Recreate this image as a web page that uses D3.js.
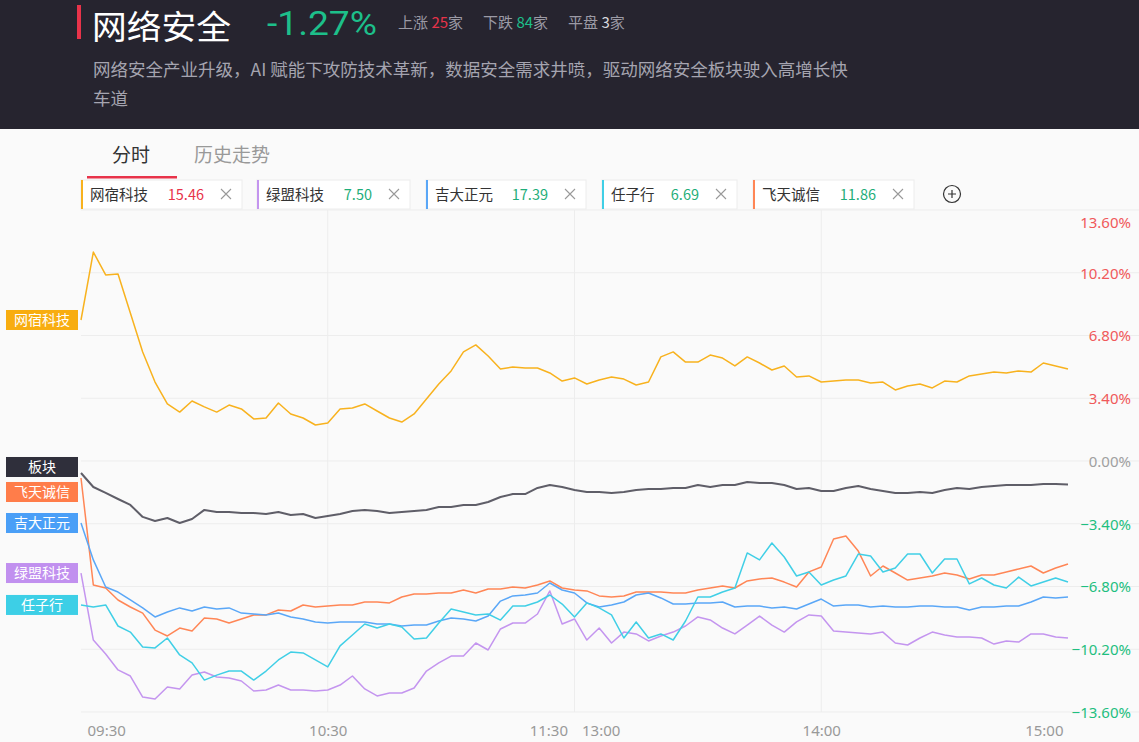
<!DOCTYPE html>
<html><head><meta charset="utf-8">
<script src="https://cdn.jsdelivr.net/npm/d3@7/dist/d3.min.js"></script>
<style>
html,body{margin:0;padding:0;background:#fafafa;}
svg{display:block;font-family:"Noto Sans CJK SC","Noto Sans",sans-serif;}
</style></head>
<body><svg id="c" width="1139" height="742"></svg>
<script>
// ---- data ----
const title = "网络安全";
const changePct = "-1.27%";
const stats = [["上涨","25","#e8334a"],["下跌","84","#1dbf8a"],["平盘","3","#d8d8de"]];
const descLines = ["网络安全产业升级，AI 赋能下攻防技术革新，数据安全需求井喷，驱动网络安全板块驶入高增长快","车道"];
const tabs = ["分时","历史走势"];
const chipNames = ["网宿科技","绿盟科技","吉大正元","任子行","飞天诚信"];
const chipPrices = ["15.46","7.50","17.39","6.69","11.86"];
const chipUp = [true,false,false,false,false];
const yTicks = [13.6,10.2,6.8,3.4,0,-3.4,-6.8,-10.2,-13.6];
const xTickLabels = ["09:30","10:30","11:30","13:00","14:00","15:00"];
const xTickMinutes = [0,60,120,120,180,240];
const minutes = d3.range(0,241,3); // sample every 3 trading minutes

const wangsu = [7.64,11.32,10.08,10.13,8.02,5.91,4.28,3.09,2.65,3.25,2.93,2.65,3.03,2.82,2.28,2.33,3.14,2.55,2.33,1.95,2.06,2.82,2.87,3.09,2.71,2.33,2.11,2.55,3.36,4.17,4.88,5.91,6.29,5.69,4.98,5.09,5.04,5.04,4.77,4.33,4.50,4.17,4.39,4.55,4.44,4.12,4.28,5.64,5.91,5.36,5.36,5.74,5.58,5.15,5.64,5.31,4.93,5.15,4.55,4.61,4.28,4.33,4.39,4.39,4.23,4.28,3.85,4.06,4.17,3.96,4.33,4.28,4.61,4.71,4.82,4.77,4.88,4.82,5.31,5.15,4.98];
const sector = [-0.65,-1.41,-1.73,-2.06,-2.38,-3.03,-3.25,-3.09,-3.36,-3.14,-2.65,-2.76,-2.76,-2.82,-2.82,-2.87,-2.76,-2.93,-2.87,-3.09,-2.98,-2.87,-2.71,-2.65,-2.71,-2.82,-2.76,-2.71,-2.65,-2.49,-2.49,-2.38,-2.38,-2.22,-1.95,-1.79,-1.79,-1.46,-1.30,-1.41,-1.57,-1.68,-1.68,-1.73,-1.68,-1.57,-1.52,-1.52,-1.46,-1.46,-1.30,-1.41,-1.30,-1.30,-1.14,-1.19,-1.19,-1.30,-1.52,-1.46,-1.63,-1.63,-1.46,-1.35,-1.52,-1.63,-1.73,-1.73,-1.68,-1.73,-1.57,-1.46,-1.52,-1.41,-1.35,-1.30,-1.30,-1.30,-1.25,-1.25,-1.27];
const feitian = [-0.92,-6.72,-6.88,-7.53,-7.91,-8.24,-9.16,-9.48,-9.05,-9.21,-8.51,-8.56,-8.78,-8.56,-8.34,-8.34,-8.07,-8.13,-7.80,-7.91,-7.86,-7.80,-7.80,-7.64,-7.64,-7.69,-7.37,-7.21,-7.21,-7.15,-7.15,-6.99,-7.15,-6.94,-6.94,-6.83,-6.88,-6.72,-6.50,-6.88,-6.99,-7.04,-7.31,-7.37,-7.31,-7.10,-7.10,-7.10,-7.15,-7.15,-6.99,-6.88,-6.77,-6.88,-6.50,-6.39,-6.34,-6.56,-6.83,-6.01,-5.74,-4.23,-4.06,-4.88,-6.23,-5.69,-6.07,-6.45,-6.34,-6.23,-6.07,-6.18,-6.39,-6.18,-6.18,-6.01,-5.85,-5.69,-6.07,-5.80,-5.58];
const jida = [-3.36,-5.36,-6.83,-7.10,-7.53,-7.96,-8.45,-8.18,-7.96,-8.13,-7.91,-8.02,-7.96,-8.24,-8.29,-8.34,-8.24,-8.45,-8.56,-8.72,-8.78,-8.72,-8.72,-8.72,-8.83,-8.83,-8.94,-8.89,-8.89,-8.67,-8.51,-8.56,-8.67,-8.40,-7.59,-7.31,-7.26,-7.15,-6.61,-6.99,-7.15,-7.69,-7.91,-7.80,-7.64,-7.26,-7.15,-7.42,-7.75,-7.75,-7.69,-7.69,-7.64,-7.91,-7.86,-7.86,-7.96,-7.91,-8.02,-7.75,-7.48,-7.86,-7.80,-7.80,-7.91,-7.86,-7.91,-7.91,-7.86,-7.86,-7.91,-7.91,-8.07,-7.91,-7.91,-7.86,-7.86,-7.64,-7.37,-7.42,-7.37];
const renzixing = [-7.80,-7.91,-7.80,-8.94,-9.27,-10.08,-10.13,-9.59,-10.51,-10.94,-11.87,-11.60,-11.38,-11.38,-11.87,-11.38,-10.78,-10.35,-10.40,-10.78,-11.16,-10.02,-9.43,-8.83,-9.05,-8.83,-8.99,-9.64,-9.59,-8.78,-8.02,-8.18,-8.34,-8.29,-8.62,-7.86,-7.86,-7.64,-7.26,-7.75,-8.45,-7.69,-7.96,-8.34,-9.59,-8.72,-9.59,-9.37,-9.70,-8.67,-7.37,-7.37,-7.10,-6.88,-4.98,-5.36,-4.44,-5.20,-6.23,-6.01,-6.72,-6.45,-6.23,-5.04,-5.15,-6.01,-5.80,-5.04,-5.04,-6.07,-5.31,-5.31,-6.66,-6.34,-6.72,-6.88,-6.29,-6.77,-6.56,-6.34,-6.56];
const lvmeng = [-6.07,-9.70,-10.46,-11.32,-11.65,-12.79,-12.90,-12.25,-12.35,-11.60,-11.43,-11.70,-11.76,-11.92,-12.46,-12.41,-12.14,-12.41,-12.41,-12.46,-12.41,-12.14,-11.65,-12.35,-12.73,-12.57,-12.57,-12.30,-11.38,-10.94,-10.57,-10.57,-9.86,-10.24,-9.10,-8.78,-8.78,-8.29,-7.04,-8.83,-8.56,-9.70,-9.05,-9.86,-9.27,-9.37,-9.75,-9.48,-9.27,-8.94,-8.45,-8.61,-9.05,-9.37,-8.89,-8.40,-8.89,-9.27,-8.72,-8.34,-8.40,-9.21,-9.27,-9.32,-9.37,-9.27,-9.86,-9.97,-9.59,-9.27,-9.43,-9.54,-9.54,-9.59,-9.92,-9.75,-9.81,-9.37,-9.37,-9.54,-9.59];

const seriesNames = ["网宿科技","板块","飞天诚信","吉大正元","绿盟科技","任子行"];
const seriesValues = [wangsu, sector, feitian, jida, lvmeng, renzixing];
const seriesColors = ["#f8b21e","#5f5e68","#ff8656","#5aa7f7","#c495ef","#40cfe6"];
const labelColors = ["#f8ad10","#2f2f3b","#ff7d4a","#4a9ff7","#c190ef","#3dcfe6"];
const chipColors = ["#f8b21e","#c495ef","#5aa7f7","#40cfe6","#ff8656"];

// ---- drawing ----
const svg = d3.select("#c");
const W = 1139, H = 742;

// header
svg.append("rect").attr("x",0).attr("y",0).attr("width",W).attr("height",129).attr("fill","#26242f");
svg.append("rect").attr("x",77).attr("y",5).attr("width",4).attr("height",34).attr("fill","#e8334a");
svg.append("text").attr("x",92).attr("y",38.5).attr("fill","#ffffff").attr("font-size",33)
   .attr("textLength",139).attr("lengthAdjust","spacingAndGlyphs").text(title);
svg.append("text").attr("x",267).attr("y",35).attr("fill","#1dbf8a").attr("font-size",34)
   .attr("font-family","Roboto,'Noto Sans',sans-serif").attr("textLength",110).attr("lengthAdjust","spacingAndGlyphs").text(changePct);
const statX = [398,483,568];
stats.forEach((s,i)=>{
  const t = svg.append("text").attr("x",statX[i]).attr("y",28).attr("font-size",15).attr("fill","#9b9aa5");
  t.append("tspan").text(s[0]+" ");
  t.append("tspan").attr("fill",s[2]).text(s[1]);
  t.append("tspan").text("家");
});
descLines.forEach((l,i)=>{
  svg.append("text").attr("x",93).attr("y",76+i*29).attr("font-size",17.5).attr("fill","#a5a4b0").text(l);
});

// tabs
svg.append("text").attr("x",112).attr("y",162).attr("font-size",19).attr("fill","#333").text(tabs[0]);
svg.append("text").attr("x",194).attr("y",162).attr("font-size",19).attr("fill","#999").text(tabs[1]);
svg.append("rect").attr("x",87).attr("y",176).attr("width",90).attr("height",2.5).attr("fill","#e8334a");

// chips
const chipX = [81,257,426,602,753];
const chipW = [161,153,160,135,161];
chipNames.forEach((n,i)=>{
  const g = svg.append("g").attr("transform",`translate(${chipX[i]},180)`);
  g.append("rect").attr("width",chipW[i]).attr("height",29).attr("fill","#fff").attr("stroke","#ececec");
  g.append("rect").attr("width",2).attr("height",29).attr("fill",chipColors[i]);
  g.append("text").attr("x",9).attr("y",20).attr("font-size",14.5).attr("fill","#333").text(n);
  g.append("text").attr("y",20).attr("font-size",14.5)
     .attr("fill",chipUp[i]?"#e8334a":"#1fae7a").text(chipPrices[i])
     .attr("x", chipW[i]-38).attr("text-anchor","end");
  g.append("path").attr("d",`M${chipW[i]-21},9 l10,10 M${chipW[i]-11},9 l-10,10`)
   .attr("stroke","#999").attr("stroke-width",1.1);
});
svg.append("circle").attr("cx",952).attr("cy",194).attr("r",8.5).attr("fill","none").attr("stroke","#333").attr("stroke-width",1.2);
svg.append("path").attr("d","M948,194h8M952,190v8").attr("stroke","#333").attr("stroke-width",1.2);

// scales
const x = d3.scaleLinear().domain([0,240]).range([81,1068]);
const y = d3.scaleLinear().domain([-13.6,13.6]).range([712,210]);

// gridlines
const grid = svg.append("g");
grid.selectAll("line.h").data(yTicks).join("line")
  .attr("x1",81).attr("x2",1139).attr("y1",d=>y(d)).attr("y2",d=>y(d))
  .attr("stroke","#ededed").attr("stroke-width",1);
grid.selectAll("line.v").data([60,120,180]).join("line")
  .attr("x1",d=>x(d)).attr("x2",d=>x(d)).attr("y1",210).attr("y2",712)
  .attr("stroke","#ededed").attr("stroke-width",1);

// right axis
const yAxis = d3.axisRight(y).tickValues(yTicks).tickSize(0).tickPadding(0)
   .tickFormat(d=>d3.format(".2f")(d)+"%");
const ya = svg.append("g").attr("transform","translate(1131,0)").call(yAxis);
ya.select(".domain").remove();
ya.selectAll("text").attr("text-anchor","end").attr("font-size",15)
  .attr("font-family","'Noto Sans','Open Sans',sans-serif")
  .attr("fill",d=>d>0?"#f0595a":(d<0?"#1fbf80":"#a0a0a0"))
  .attr("dy",d=>d===13.6?"1.15em":"0.35em");

// bottom axis
const xAxis = d3.axisBottom(x).tickValues(xTickMinutes).tickSize(0).tickPadding(0)
   .tickFormat((d,i)=>xTickLabels[i]);
const xa = svg.append("g").attr("transform","translate(0,725)").call(xAxis);
xa.select(".domain").remove();
const anchors = ["start","middle","end","start","middle","end"];
const dxs = [6,0,-7,7,0,-5];
xa.selectAll("text").attr("font-size",15).attr("fill","#999")
  .attr("font-family","'Noto Sans','Open Sans',sans-serif")
  .attr("dy","0.71em")
  .attr("text-anchor",(d,i)=>anchors[i]).attr("dx",(d,i)=>dxs[i]);

// lines
const line = d3.line().x((d,i)=>x(minutes[i])).y(d=>y(d));
const order = [0,2,3,4,5,1];
order.forEach(k=>{
  svg.append("path").datum(seriesValues[k]).attr("d",line)
    .attr("fill","none").attr("stroke",seriesColors[k])
    .attr("stroke-width",k===1?2:1.5).attr("stroke-linejoin","round");
});

// left labels (cascade to avoid overlap, then recentre pushed clusters)
const lab = seriesNames.map((n,k)=>({n,k,y0:y(seriesValues[k][0])})).sort((a,b)=>a.y0-b.y0);
lab.forEach((l,i)=>{ l.y = i && l.y0 < lab[i-1].y+25 ? lab[i-1].y+25 : l.y0; l.c = i && l.y0 < lab[i-1].y+25 ? lab[i-1].c : i; });
d3.groups(lab,l=>l.c).forEach(([c,g])=>{
  if(g.length>1){ const s = d3.mean(g,l=>l.y-l.y0)*0.6; g.forEach(l=>l.y-=s); }
});
lab.forEach(l=>{
  svg.append("rect").attr("x",6).attr("y",l.y-10).attr("width",72).attr("height",20).attr("fill",labelColors[l.k]);
  svg.append("text").attr("x",42).attr("y",l.y+5).attr("text-anchor","middle").attr("font-size",14)
    .attr("fill","#fff").text(l.n);
});
</script></body></html>
